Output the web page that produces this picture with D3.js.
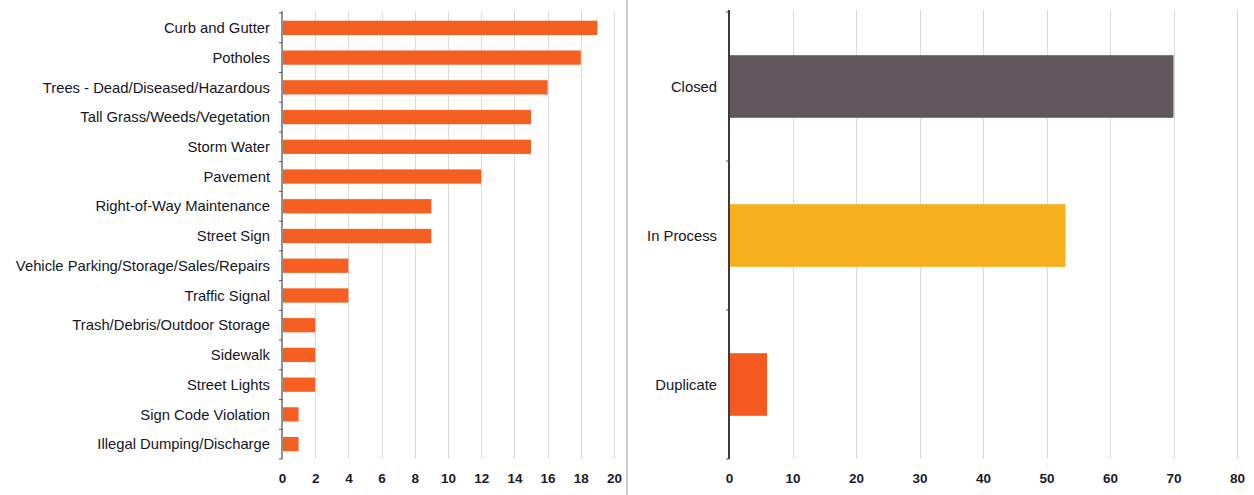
<!DOCTYPE html>
<html><head><meta charset="utf-8">
<script src="https://cdn.jsdelivr.net/npm/d3@7"></script>
<style>body{margin:0;background:#fff}svg{display:block}text{font-family:"Liberation Sans",Arial,sans-serif}</style>
</head><body><svg id="c" width="1254" height="495"></svg>
<script>
const leftCategories = ["Curb and Gutter","Potholes","Trees - Dead/Diseased/Hazardous","Tall Grass/Weeds/Vegetation","Storm Water","Pavement","Right-of-Way Maintenance","Street Sign","Vehicle Parking/Storage/Sales/Repairs","Traffic Signal","Trash/Debris/Outdoor Storage","Sidewalk","Street Lights","Sign Code Violation","Illegal Dumping/Discharge"];
const leftValues = [19,18,16,15,15,12,9,9,4,4,2,2,2,1,1];
const leftTicks = [0,2,4,6,8,10,12,14,16,18,20];
const rightCategories = ["Closed","In Process","Duplicate"];
const rightValues = [70,53,6];
const rightColors = ["#5f575b","#f5b01b","#f45a1f"];
const rightTicks = [0,10,20,30,40,50,60,70,80];

const svg = d3.select("#c");
const textCol = "#15151f";

svg.append("line").attr("x1",627).attr("x2",627).attr("y1",0).attr("y2",495).attr("stroke","#9a9a9a").attr("stroke-width",1);

function panel(cfg){
  const x = d3.scaleLinear().domain(cfg.domain).range([cfg.x0,cfg.x1]);
  const y = d3.scaleBand().domain(cfg.cats).range([cfg.y0,cfg.y1]).padding(0);
  const g = svg.append("g");
  g.selectAll("line.grid").data(cfg.ticks.filter(t=>t>0)).join("line")
    .attr("x1",d=>Math.round(x(d))+0.5).attr("x2",d=>Math.round(x(d))+0.5)
    .attr("y1",cfg.y0-2).attr("y2",cfg.y1)
    .attr("stroke","#dadada").attr("stroke-width",1);
  const bh = y.bandwidth()*cfg.barFrac;
  g.selectAll("rect").data(cfg.vals).join("rect")
    .attr("x",x(0)+1).attr("y",(d,i)=>y(cfg.cats[i])+y.bandwidth()/2-bh/2)
    .attr("width",d=>x(d)-x(0)-1).attr("height",bh)
    .attr("fill",(d,i)=>cfg.colors(i));
  g.append("line").attr("x1",x(0)).attr("x2",x(0)).attr("y1",cfg.y0-2).attr("y2",cfg.y1)
    .attr("stroke",cfg.axisCol).attr("stroke-width",cfg.axisW);
  const bounds = cfg.cats.map(c=>y(c)).concat([cfg.y1]);
  g.selectAll("line.tk").data(bounds).join("line")
    .attr("x1",x(0)-3).attr("x2",x(0)).attr("y1",d=>d).attr("y2",d=>d)
    .attr("stroke","#555").attr("stroke-width",1);
  g.selectAll("text.cat").data(cfg.cats).join("text")
    .attr("x",cfg.labelX).attr("y",d=>y(d)+y.bandwidth()/2).attr("dy","0.35em")
    .attr("text-anchor","end").attr("font-size",14.8).attr("fill",textCol).text(d=>d);
  const ax = d3.axisBottom(x).tickValues(cfg.ticks).tickSize(0).tickPadding(0);
  const axg = g.append("g").attr("transform",`translate(0,${cfg.y1+14})`).call(ax);
  axg.select(".domain").remove();
  axg.selectAll("text").attr("font-size",13.5).attr("font-weight","bold").attr("fill","#1a1a2e").attr("font-family","'Liberation Sans',Arial,sans-serif");
}

panel({cats:leftCategories, vals:leftValues, domain:[0,20], ticks:leftTicks,
  x0:282, x1:614, y0:13, y1:459, barFrac:0.48, labelX:270,
  colors:()=>"#f55f22", axisCol:"#6b6b6b", axisW:1.5});
panel({cats:rightCategories, vals:rightValues, domain:[0,80], ticks:rightTicks,
  x0:729, x1:1237, y0:12, y1:459, barFrac:0.42, labelX:717,
  colors:i=>rightColors[i], axisCol:"#3e3a3c", axisW:2});
</script></body></html>
